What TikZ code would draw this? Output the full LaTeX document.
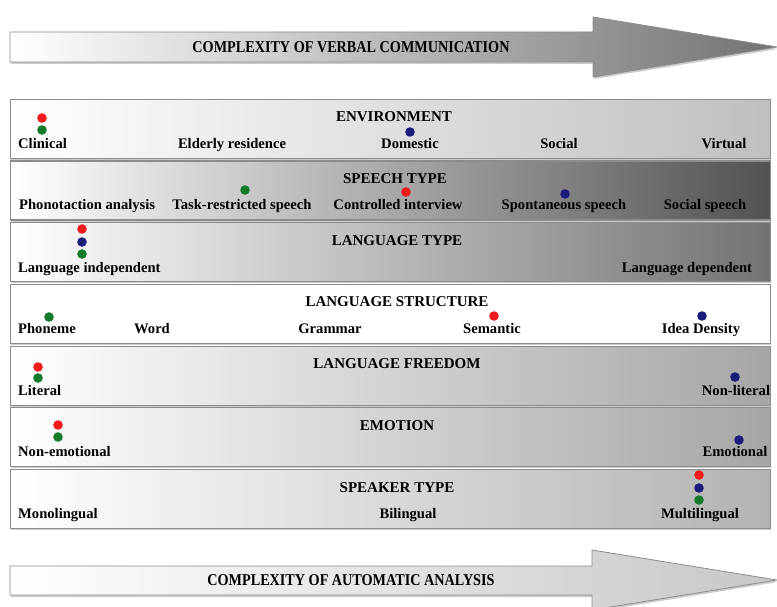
\documentclass[tikz,border=0pt]{standalone}
\usepackage{fontspec}
\setmainfont{Liberation Serif}
\newfontfamily\narrowfont[FakeStretch=0.86]{Liberation Serif}
\usetikzlibrary{shadows}
\definecolor{dotred}{HTML}{F21A1A}
\definecolor{dotblue}{HTML}{1C1C7A}
\definecolor{dotgreen}{HTML}{137A2A}
\tikzset{
  band/.style={draw=black!45,line width=1.2pt,minimum width=760pt,minimum height=59pt,
               anchor=north west,inner sep=0pt,
               drop shadow={shadow xshift=.8pt,shadow yshift=-1.4pt,opacity=.4}},
  bigarrow/.style={draw=black!45,line width=.8pt,
               drop shadow={shadow xshift=1pt,shadow yshift=-2pt,opacity=.4}},
  hdr/.style={font=\fontsize{15}{15}\selectfont\bfseries,anchor=base,inner sep=0pt},
  lbl/.style={font=\fontsize{14.6}{15}\selectfont\bfseries,anchor=base,inner sep=0pt},
  lbll/.style={lbl,anchor=base west},
  atxt/.style={font=\fontsize{16.5}{16.5}\narrowfont\bfseries,inner sep=0pt},
  dot/.style={circle,inner sep=0pt,minimum size=9.6pt},
  rd/.style={dot,fill=dotred},
  bd/.style={dot,fill=dotblue},
  gd/.style={dot,fill=dotgreen},
}
\begin{document}
\begin{tikzpicture}[x=1pt,y=-1pt]
  \useasboundingbox[fill=white] (0,0) rectangle (777,607);
  % top arrow
  \path[bigarrow,left color=white,right color=black!55]
    (10,32)--(593,32)--(593,17)--(777,47)--(593,77)--(593,62)--(10,62)--cycle;
  \node[atxt] (verbal) at (351,47) {COMPLEXITY OF VERBAL COMMUNICATION};
  % bands
  \node[band,left color=white,right color=black!25] (env)   at (10,99)    {};
  \node[band,left color=white,right color=black!68] (spch)  at (10,160.5) {};
  \node[band,left color=white,right color=black!55] (ltyp)  at (10,222)   {};
  \node[band,fill=white]                            (lstr)  at (10,283.5) {};
  \node[band,left color=white,right color=black!35] (lfree) at (10,345.5) {};
  \node[band,left color=white,right color=black!35] (emo)   at (10,407)   {};
  \node[band,left color=white,right color=black!30] (spk)   at (10,469)   {};
  % environment
  \node[hdr]  (env-h)    at (394,122) {ENVIRONMENT};
  \node[lbll] (env-clin) at (18,149)  {Clinical};
  \node[lbl]  (env-eld)  at (232,149) {Elderly residence};
  \node[lbl]  (env-dom)  at (410,149) {Domestic};
  \node[lbl]  (env-soc)  at (559,149) {Social};
  \node[lbl]  (env-vir)  at (724,149) {Virtual};
  \node[rd] (env-r) at (42,118) {};
  \node[gd] (env-g) at (42,130) {};
  \node[bd] (env-b) at (410,132) {};
  % speech type
  \node[hdr]  (spch-h)    at (395,183.5) {SPEECH TYPE};
  \node[lbll] (spch-pho)  at (19,210)  {Phonotaction analysis};
  \node[lbl]  (spch-task) at (242,210) {Task-restricted speech};
  \node[lbl]  (spch-con)  at (398,210) {Controlled interview};
  \node[lbl]  (spch-spo)  at (564,210) {Spontaneous speech};
  \node[lbl]  (spch-soc)  at (705,210) {Social speech};
  \node[gd] (spch-g) at (245,190) {};
  \node[rd] (spch-r) at (406,192) {};
  \node[bd] (spch-b) at (565,194) {};
  % language type
  \node[hdr]  (ltyp-h)   at (397,245) {LANGUAGE TYPE};
  \node[lbll] (ltyp-ind) at (18,272)  {Language independent};
  \node[lbl]  (ltyp-dep) at (687,272) {Language dependent};
  \node[rd] (ltyp-r) at (82,229) {};
  \node[bd] (ltyp-b) at (82,242) {};
  \node[gd] (ltyp-g) at (82,254) {};
  % language structure
  \node[hdr]  (lstr-h)   at (397,306) {LANGUAGE STRUCTURE};
  \node[lbll] (lstr-pho) at (18,333)  {Phoneme};
  \node[lbl]  (lstr-wrd) at (152,333) {Word};
  \node[lbl]  (lstr-gra) at (330,333) {Grammar};
  \node[lbl]  (lstr-sem) at (492,333) {Semantic};
  \node[lbl]  (lstr-ida) at (701,333) {Idea Density};
  \node[gd] (lstr-g) at (49,317) {};
  \node[rd] (lstr-r) at (494,316) {};
  \node[bd] (lstr-b) at (702,316) {};
  % language freedom
  \node[hdr]  (lfree-h)   at (397,368) {LANGUAGE FREEDOM};
  \node[lbll] (lfree-lit) at (18,395)  {Literal};
  \node[lbl]  (lfree-non) at (736,395) {Non-literal};
  \node[rd] (lfree-r) at (38,367) {};
  \node[gd] (lfree-g) at (38,378) {};
  \node[bd] (lfree-b) at (735,377) {};
  % emotion
  \node[hdr]  (emo-h)   at (397,430) {EMOTION};
  \node[lbll] (emo-non) at (18,456)  {Non-emotional};
  \node[lbl]  (emo-emo) at (735,456) {Emotional};
  \node[rd] (emo-r) at (58,425) {};
  \node[gd] (emo-g) at (58,437) {};
  \node[bd] (emo-b) at (739,440) {};
  % speaker type
  \node[hdr]  (spk-h)   at (397,492) {SPEAKER TYPE};
  \node[lbll] (spk-mon) at (18,518)  {Monolingual};
  \node[lbl]  (spk-bil) at (408,518) {Bilingual};
  \node[lbl]  (spk-mul) at (700,518) {Multilingual};
  \node[rd] (spk-r) at (699,475) {};
  \node[bd] (spk-b) at (699,488) {};
  \node[gd] (spk-g) at (699,500) {};
  % bottom arrow
  \path[bigarrow,left color=white,right color=black!22]
    (10,566)--(592,566)--(592,550)--(777,580)--(592,610)--(592,595)--(10,595)--cycle;
  \node[atxt] (autom) at (351,580) {COMPLEXITY OF AUTOMATIC ANALYSIS};
\end{tikzpicture}
\end{document}
